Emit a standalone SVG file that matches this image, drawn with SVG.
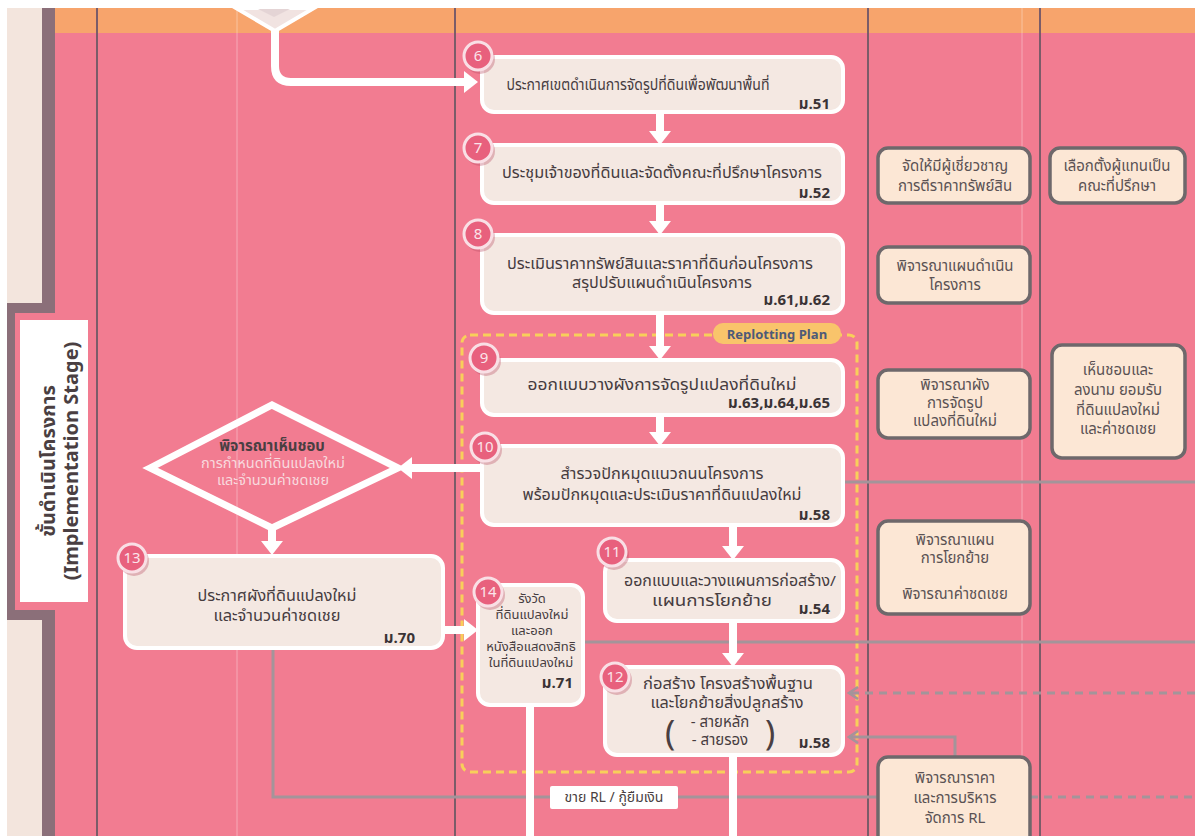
<svg xmlns="http://www.w3.org/2000/svg" width="1195" height="836" viewBox="0 0 1195 836">
<defs>
<style>
.th{font-family:'Noto Sans Thai','Noto Sans','DejaVu Sans',sans-serif;}
.t{font-size:15px;fill:#463c3f;text-anchor:middle}
.s{font-size:13px;fill:#463c3f;text-anchor:middle}
.m{font-size:15px;font-weight:700;fill:#3a3335;text-anchor:end}
.r{font-size:15px;fill:#5a5254;text-anchor:middle}
.box{fill:#f4e8e2;stroke:#ffffff;stroke-width:4}
.rbox{fill:#fce7d5;stroke:#6e686b;stroke-width:3.5}
.wl{stroke:#ffffff;stroke-width:8;fill:none}
.gl{stroke:#a4949a;stroke-width:3;fill:none}
.gd{stroke-dasharray:8 6}
.lane{stroke:#7b5c69;stroke-width:2}
.faint{stroke:#ffffff;stroke-width:1;opacity:0.35}
.badge{fill:#e8607d;stroke:#f9dfe5;stroke-width:3}
.shadow{fill:#b84a62;opacity:0.35}
.bn{font-size:15px;fill:#fbe4ea;text-anchor:middle}
</style>
<marker id="wa" viewBox="0 0 14 22" markerUnits="userSpaceOnUse" markerWidth="14" markerHeight="22" refX="2" refY="11" orient="auto">
<path d="M0,0 L14,11 L0,22 z" fill="#ffffff"/>
</marker>
<marker id="ga" viewBox="0 0 12 14" markerUnits="userSpaceOnUse" markerWidth="12" markerHeight="14" refX="10" refY="7" orient="auto">
<path d="M1,1 L10,7 L1,13" fill="none" stroke="#a4949a" stroke-width="2.5"/>
</marker>
</defs>

<!-- background -->
<rect x="0" y="0" width="1195" height="836" fill="#ffffff"/>
<rect x="55" y="8" width="1140" height="828" fill="#f27c91"/>
<rect x="55" y="8" width="1140" height="25" fill="#f7a46c"/>
<rect x="7" y="8" width="35" height="828" fill="#f3e5dd"/>
<rect x="42" y="8" width="13" height="828" fill="#8b6f79"/>

<!-- lanes -->
<g id="lanes">
<line class="lane" x1="97" y1="8" x2="97" y2="836"/>
<line class="lane" x1="455" y1="8" x2="455" y2="836"/>
<line class="lane" x1="868" y1="8" x2="868" y2="836"/>
<line class="lane" x1="1040" y1="8" x2="1040" y2="836"/>
<line class="faint" x1="237" y1="8" x2="237" y2="836"/>
<line class="faint" x1="1022" y1="8" x2="1022" y2="836"/>
</g>

<!-- stage label -->
<g id="stage">
<rect x="7" y="303" width="48" height="317" fill="#8b6f79"/>
<rect x="15" y="313" width="40" height="297" fill="#f27c91"/>
<rect x="20" y="320" width="68" height="282" fill="#ffffff"/>
<text class="th" transform="translate(55,461) rotate(-90)" text-anchor="middle" font-size="20" font-weight="700" fill="#4a3f42">ขั้นดำเนินโครงการ</text>
<text class="th" transform="translate(78,461) rotate(-90)" text-anchor="middle" font-size="20" font-weight="700" fill="#4a3f42">(Implementation Stage)</text>
</g>

<!-- replotting plan frame -->
<g id="replot">
<rect x="462" y="335" width="395" height="437" rx="8" fill="none" stroke="#f8cf5a" stroke-width="3" stroke-dasharray="8 5"/>
<rect x="713" y="323" width="128" height="21" rx="10" fill="#f9c46b"/>
<text class="th" x="777" y="339" text-anchor="middle" font-size="13" font-weight="700" fill="#4d5a78">Replotting Plan</text>
</g>

<!-- top previous shape -->
<polygon points="236,8 275,31 314,8" fill="#f1e3e1" stroke="#ffffff" stroke-width="4"/>
<polygon points="258,9 274,17 290,9" fill="#e4d4d5"/>

<!-- connectors -->
<g id="connectors">
<path class="gl" d="M843,482 H1195" stroke-width="2.5"/>
<path class="gl" d="M583,642 H1195" stroke-width="2"/>
<path class="gl gd" d="M1195,693 H849" marker-end="url(#ga)"/>
<path class="gl" d="M955,757 V737 H849" marker-end="url(#ga)"/>
<path class="gl" d="M273,650 V797 H878"/>
<path class="gl gd" d="M1030,797 H1195"/>

<path class="wl" d="M275,31 V66 Q275,82 291,82 H466" marker-end="url(#wa)"/>
<path class="wl" d="M660,112 V133" marker-end="url(#wa)"/>
<path class="wl" d="M660,203 V223" marker-end="url(#wa)"/>
<path class="wl" d="M660,313 V348" marker-end="url(#wa)"/>
<path class="wl" d="M660,415 V434" marker-end="url(#wa)"/>
<path class="wl" d="M482,468 H410" marker-end="url(#wa)"/>
<path class="wl" d="M272,530 V543" marker-end="url(#wa)"/>
<path class="wl" d="M733,525 V548" marker-end="url(#wa)"/>
<path class="wl" d="M733,621 V655" marker-end="url(#wa)"/>
<path class="wl" d="M443,630 H466" marker-end="url(#wa)"/>
<path class="wl" d="M530,705 V836"/>
<path class="wl" d="M733,755 V836"/>
</g>

<!-- label on RL line -->
<g id="rl-label">
<rect x="550" y="786" width="128" height="23" rx="2" fill="#ffffff"/>
<text class="th" x="614" y="802" text-anchor="middle" font-size="14" fill="#4a3f42">ขาย RL / กู้ยืมเงิน</text>
</g>

<!-- main process nodes -->
<g id="n6">
<rect class="box" x="482" y="57" width="361" height="55" rx="12"/>
<text class="th t" x="638" y="90" textLength="263" lengthAdjust="spacingAndGlyphs">ประกาศเขตดำเนินการจัดรูปที่ดินเพื่อพัฒนาพื้นที่</text>
<text class="th m" x="830" y="109">ม.51</text>
<circle class="shadow" cx="480" cy="59" r="15"/>
<circle class="badge" cx="478" cy="56" r="14"/>
<text class="th bn" x="478" y="61">6</text>
</g>
<g id="n7">
<rect class="box" x="482" y="145" width="361" height="58" rx="12"/>
<text class="th t" x="662" y="178" textLength="320" lengthAdjust="spacingAndGlyphs">ประชุมเจ้าของที่ดินและจัดตั้งคณะที่ปรึกษาโครงการ</text>
<text class="th m" x="830" y="198">ม.52</text>
<circle class="shadow" cx="480" cy="151" r="15"/>
<circle class="badge" cx="478" cy="148" r="14"/>
<text class="th bn" x="478" y="153">7</text>
</g>
<g id="n8">
<rect class="box" x="482" y="235" width="361" height="78" rx="12"/>
<text class="th t" x="660" y="269" textLength="306" lengthAdjust="spacingAndGlyphs">ประเมินราคาทรัพย์สินและราคาที่ดินก่อนโครงการ</text>
<text class="th t" x="662" y="288" textLength="180" lengthAdjust="spacingAndGlyphs">สรุปปรับแผนดำเนินโครงการ</text>
<text class="th m" x="830" y="305">ม.61,ม.62</text>
<circle class="shadow" cx="480" cy="237" r="15"/>
<circle class="badge" cx="478" cy="234" r="14"/>
<text class="th bn" x="478" y="239">8</text>
</g>
<g id="n9">
<rect class="box" x="482" y="360" width="361" height="55" rx="12"/>
<text class="th t" x="662" y="390" textLength="269" lengthAdjust="spacingAndGlyphs">ออกแบบวางผังการจัดรูปแปลงที่ดินใหม่</text>
<text class="th m" x="830" y="408">ม.63,ม.64,ม.65</text>
<circle class="shadow" cx="486" cy="361" r="15"/>
<circle class="badge" cx="484" cy="358" r="14"/>
<text class="th bn" x="484" y="363">9</text>
</g>
<g id="n10">
<rect class="box" x="482" y="446" width="361" height="79" rx="12"/>
<text class="th t" x="662" y="479" textLength="203" lengthAdjust="spacingAndGlyphs">สำรวจปักหมุดแนวถนนโครงการ</text>
<text class="th t" x="662" y="500" textLength="279" lengthAdjust="spacingAndGlyphs">พร้อมปักหมุดและประเมินราคาที่ดินแปลงใหม่</text>
<text class="th m" x="830" y="520">ม.58</text>
<circle class="shadow" cx="487" cy="450" r="15"/>
<circle class="badge" cx="485" cy="447" r="14"/>
<text class="th bn" x="485" y="452">10</text>
</g>
<g id="n11">
<rect class="box" x="605" y="560" width="238" height="61" rx="12"/>
<text class="th t" x="730" y="586" textLength="212" lengthAdjust="spacingAndGlyphs">ออกแบบและวางแผนการก่อสร้าง/</text>
<text class="th t" x="712" y="606" textLength="120" lengthAdjust="spacingAndGlyphs">แผนการโยกย้าย</text>
<text class="th m" x="830" y="614">ม.54</text>
<circle class="shadow" cx="614" cy="555" r="15"/>
<circle class="badge" cx="612" cy="552" r="14"/>
<text class="th bn" x="612" y="557">11</text>
</g>
<g id="n12">
<rect class="box" x="605" y="667" width="238" height="88" rx="12"/>
<text class="th t" x="728" y="689" textLength="170" lengthAdjust="spacingAndGlyphs">ก่อสร้าง โครงสร้างพื้นฐาน</text>
<text class="th t" x="727" y="708" textLength="153" lengthAdjust="spacingAndGlyphs">และโยกย้ายสิ่งปลูกสร้าง</text>
<text class="th t" x="720" y="727">- สายหลัก</text>
<text class="th t" x="720" y="745">- สายรอง</text>
<text class="th" x="670" y="745" font-size="34" fill="#4a3f42" text-anchor="middle">(</text>
<text class="th" x="770" y="745" font-size="34" fill="#4a3f42" text-anchor="middle">)</text>
<text class="th m" x="830" y="748">ม.58</text>
<circle class="shadow" cx="617" cy="680" r="15"/>
<circle class="badge" cx="615" cy="677" r="14"/>
<text class="th bn" x="615" y="682">12</text>
</g>
<g id="n13">
<rect class="box" x="125" y="556" width="318" height="92" rx="12"/>
<text class="th t" x="277" y="601" textLength="159" lengthAdjust="spacingAndGlyphs">ประกาศผังที่ดินแปลงใหม่</text>
<text class="th t" x="277" y="621" textLength="127" lengthAdjust="spacingAndGlyphs">และจำนวนค่าชดเชย</text>
<text class="th m" x="415" y="643">ม.70</text>
<circle class="shadow" cx="134" cy="561" r="15"/>
<circle class="badge" cx="132" cy="558" r="14"/>
<text class="th bn" x="132" y="563">13</text>
</g>
<g id="n14">
<rect class="box" x="478" y="585" width="105" height="120" rx="12"/>
<text class="th s" x="532" y="603">รังวัด</text>
<text class="th s" x="532" y="619">ที่ดินแปลงใหม่</text>
<text class="th s" x="532" y="635">และออก</text>
<text class="th s" x="531" y="651">หนังสือแสดงสิทธิ</text>
<text class="th s" x="531" y="667">ในที่ดินแปลงใหม่</text>
<text class="th m" x="573" y="688">ม.71</text>
<circle class="shadow" cx="490" cy="595" r="15"/>
<circle class="badge" cx="488" cy="592" r="14"/>
<text class="th bn" x="488" y="597">14</text>
</g>

<!-- decision -->
<g id="decision">
<polygon points="150,468 272,405 398,468 272,528" fill="none" stroke="#ffffff" stroke-width="7"/>
<text class="th" x="272" y="451" text-anchor="middle" font-size="15" font-weight="700" fill="#4a3f42">พิจารณาเห็นชอบ</text>
<text class="th" x="273" y="468" text-anchor="middle" font-size="14.5" fill="#f8d9de">การกำหนดที่ดินแปลงใหม่</text>
<text class="th" x="273" y="485" text-anchor="middle" font-size="14.5" fill="#f8d9de">และจำนวนค่าชดเชย</text>
</g>

<!-- right lane nodes -->
<g id="r1">
<rect class="rbox" x="878" y="148" width="152" height="55" rx="10"/>
<text class="th r" x="955" y="171">จัดให้มีผู้เชี่ยวชาญ</text>
<text class="th r" x="955" y="191">การตีราคาทรัพย์สิน</text>
</g>
<g id="r2">
<rect class="rbox" x="1050" y="148" width="135" height="55" rx="10"/>
<text class="th r" x="1117" y="171">เลือกตั้งผู้แทนเป็น</text>
<text class="th r" x="1117" y="191">คณะที่ปรึกษา</text>
</g>
<g id="r3">
<rect class="rbox" x="878" y="247" width="152" height="56" rx="10"/>
<text class="th r" x="955" y="271">พิจารณาแผนดำเนิน</text>
<text class="th r" x="955" y="290">โครงการ</text>
</g>
<g id="r4">
<rect class="rbox" x="878" y="370" width="152" height="68" rx="10"/>
<text class="th r" x="955" y="390">พิจารณาผัง</text>
<text class="th r" x="955" y="408">การจัดรูป</text>
<text class="th r" x="955" y="426">แปลงที่ดินใหม่</text>
</g>
<g id="r5">
<rect class="rbox" x="1052" y="345" width="133" height="113" rx="10"/>
<text class="th r" x="1118" y="375">เห็นชอบและ</text>
<text class="th r" x="1118" y="395">ลงนาม ยอมรับ</text>
<text class="th r" x="1118" y="415">ที่ดินแปลงใหม่</text>
<text class="th r" x="1118" y="434">และค่าชดเชย</text>
</g>
<g id="r6">
<rect class="rbox" x="878" y="521" width="152" height="93" rx="10"/>
<text class="th r" x="955" y="545">พิจารณาแผน</text>
<text class="th r" x="955" y="563">การโยกย้าย</text>
<text class="th r" x="955" y="599">พิจารณาค่าชดเชย</text>
</g>
<g id="r7">
<rect class="rbox" x="878" y="757" width="152" height="92" rx="10"/>
<text class="th r" x="955" y="783">พิจารณาราคา</text>
<text class="th r" x="955" y="803">และการบริหาร</text>
<text class="th r" x="955" y="823">จัดการ RL</text>
</g>
</svg>
